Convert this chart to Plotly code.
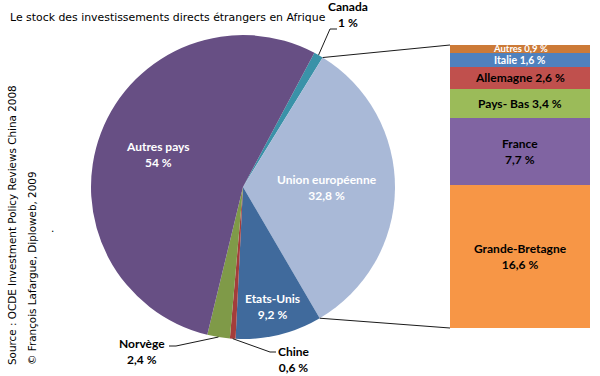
import math
import plotly.graph_objects as go

# ---------------- data ----------------
pie_labels = ["Canada", "Union européenne", "Etats-Unis", "Chine", "Norvège", "Autres pays"]
pie_values = [1.0, 32.8, 9.2, 0.6, 2.4, 54.0]
pie_text = ["1 %", "32,8 %", "9,2 %", "0,6 %", "2,4 %", "54 %"]
pie_colors = ["#3A92A8", "#A9B9D7", "#406A9C", "#A43D3B", "#7F9A48", "#674F84"]

bar_labels = ["Grande-Bretagne", "France", "Pays- Bas", "Allemagne", "Italie", "Autres"]
bar_values = [16.6, 7.7, 3.4, 2.6, 1.6, 0.9]
bar_text = ["16,6 %", "7,7 %", "3,4 %", "2,6 %", "1,6 %", "0,9 %"]
bar_colors = ["#F79646", "#8064A2", "#9BBB59", "#C0504D", "#4F81BD", "#CC7A37"]

title = "Le stock des investissements directs étrangers en Afrique"
source1 = "Source : OCDE Investment Policy Reviews China 2008"
source2 = "© François Lafargue, Diploweb, 2009"

# ---------------- layout constants ----------------
W, H = 600, 376
ROT = 28
CX, CY, R = 243, 187, 152          # pie centre / radius in pixels
BAR_X0, BAR_X1, BAR_Y0, BAR_Y1 = 450, 590, 45, 328
LABEL_FONT = "Lato"
TXT_FONT = "DejaVu Sans"
TXT_SIZE = 10.9
SRC_SIZE = 10.4

def px(x):
    return x / W

def py(y):
    return 1 - y / H

fig = go.Figure()
fig.add_trace(go.Pie(
    labels=pie_labels, values=pie_values, sort=False, direction="clockwise",
    rotation=ROT, textinfo="none", marker=dict(colors=pie_colors, line=dict(width=0)),
    domain=dict(x=[px(CX - R), px(CX + R)], y=[py(CY + R), py(CY - R)]),
    showlegend=False,
))

for lab, val, col in zip(bar_labels, bar_values, bar_colors):
    fig.add_trace(go.Bar(x=[0], y=[val], width=1, marker=dict(color=col, line=dict(width=0)),
                         name=lab, showlegend=False, xaxis="x", yaxis="y"))

total_bar = sum(bar_values)
annotations = []
shapes = []

# --- pie angles
total = sum(pie_values)
angles = []
a = ROT
for v in pie_values:
    a0 = a
    a += v / total * 360
    angles.append((a0, a))

def pt(angle, frac=1.0):
    t = math.radians(angle)
    return CX + R * frac * math.sin(t), CY - R * frac * math.cos(t)

# inside labels (white)
inside = {"Union européenne": 0.55, "Etats-Unis": 0.81, "Autres pays": 0.6}
for i, lab in enumerate(pie_labels):
    if lab in inside:
        mid = sum(angles[i]) / 2
        x, y = pt(mid, inside[lab])
        annotations.append(dict(x=px(x), y=py(y), xref="paper", yref="paper",
                                text=f"<b>{lab}<br>{pie_text[i]}</b>", showarrow=False,
                                font=dict(family=LABEL_FONT, size=12, color="white"),
                                xanchor="center", yanchor="middle"))

# outside labels with leader lines
outside = {
    "Canada": dict(tx=348, ty=15, elbow=(330, 29), end=(337, 29)),
    "Norvège": dict(tx=142, ty=351, elbow=(176, 346), end=(169, 346)),
    "Chine": dict(tx=294, ty=359, elbow=(270, 352), end=(276, 352)),
}
for i, lab in enumerate(pie_labels):
    if lab in outside:
        o = outside[lab]
        mid = sum(angles[i]) / 2
        x, y = pt(mid)
        annotations.append(dict(x=px(o["tx"]), y=py(o["ty"]), xref="paper", yref="paper",
                                text=f"<b>{lab}<br>{pie_text[i]}</b>", showarrow=False,
                                font=dict(family=LABEL_FONT, size=12, color="black"),
                                xanchor="center", yanchor="middle"))
        path = f"M {px(x)},{py(y)} L {px(o['elbow'][0])},{py(o['elbow'][1])} L {px(o['end'][0])},{py(o['end'][1])}"
        shapes.append(dict(type="path", path=path, xref="paper", yref="paper",
                           line=dict(color="#1a1a1a", width=1)))

# connector lines pie -> bar
ue = pie_labels.index("Union européenne")
sx, sy = pt(angles[ue][0])
ex, ey = pt(angles[ue][1])
shapes.append(dict(type="line", xref="paper", yref="paper", x0=px(sx), y0=py(sy),
                   x1=px(BAR_X0), y1=py(BAR_Y0), line=dict(color="#1a1a1a", width=1)))
shapes.append(dict(type="line", xref="paper", yref="paper", x0=px(ex), y0=py(ey),
                   x1=px(BAR_X0), y1=py(BAR_Y1), line=dict(color="#1a1a1a", width=1)))

# bar labels
cum = 0
white_text = {"Autres", "Italie"}
small_size = {"Autres": 9.5, "Italie": 10.5}
for lab, val, t in zip(bar_labels, bar_values, bar_text):
    mid = cum + val / 2
    cum += val
    if val > 5:
        txt = f"<b>{lab}<br>{t}</b>"
    else:
        txt = f"<b>{lab} {t}</b>"
    annotations.append(dict(x=0, y=mid, xref="x", yref="y", text=txt, showarrow=False,
                            font=dict(family=LABEL_FONT, size=small_size.get(lab, 12),
                                      color="white" if lab in white_text else "black"),
                            xanchor="center", yanchor="middle", borderpad=0))

# title & source
annotations.append(dict(x=px(8), y=py(18), xref="paper", yref="paper", text=title,
                        showarrow=False, xanchor="left", yanchor="middle",
                        font=dict(family=TXT_FONT, size=TXT_SIZE, color="black")))
annotations.append(dict(x=px(12), y=py(367), xref="paper", yref="paper", text=source1,
                        showarrow=False, textangle=-90, xanchor="center", yanchor="bottom",
                        font=dict(family=TXT_FONT, size=SRC_SIZE, color="black")))
annotations.append(dict(x=px(32), y=py(367), xref="paper", yref="paper", text=source2,
                        showarrow=False, textangle=-90, xanchor="center", yanchor="bottom",
                        font=dict(family=TXT_FONT, size=SRC_SIZE, color="black")))
annotations.append(dict(x=px(49), y=py(228), xref="paper", yref="paper", text=".",
                        showarrow=False, font=dict(family=TXT_FONT, size=SRC_SIZE, color="black")))

fig.update_layout(
    width=W, height=H, margin=dict(l=0, r=0, t=0, b=0),
    paper_bgcolor="white", plot_bgcolor="white", barmode="stack", bargap=0,
    xaxis=dict(domain=[px(BAR_X0), px(BAR_X1)], range=[-0.5, 0.5], visible=False, fixedrange=True),
    yaxis=dict(domain=[py(BAR_Y1), py(BAR_Y0)], range=[0, total_bar], visible=False, fixedrange=True),
    annotations=annotations, shapes=shapes,
)
fig.write_html("out.html", config={"displayModeBar": False},
               post_script="document.body.style.margin='0px';document.body.style.padding='0px';")
